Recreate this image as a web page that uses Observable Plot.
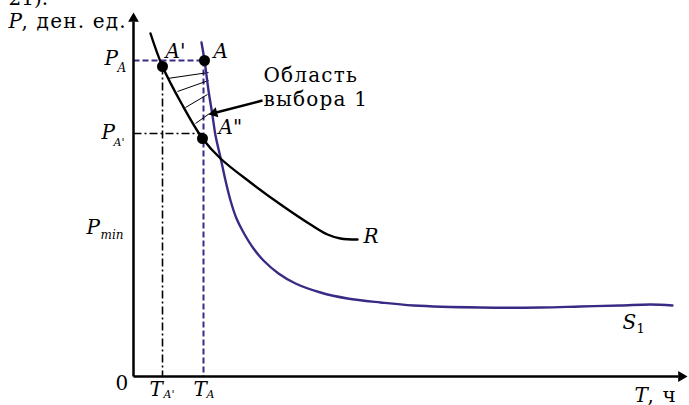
<!DOCTYPE html>
<html><head><meta charset="utf-8">
<script src="https://cdn.jsdelivr.net/npm/d3@7"></script>
<script src="https://cdn.jsdelivr.net/npm/@observablehq/plot@0.6"></script>
<style>body{margin:0;background:#fff;} svg{display:block;}</style>
</head><body><div id="chart"></div>
<script>
// Curve R (black)
const rT = [17,29,48,69,87,117,150,177,194,207,224];
const rP = [343,310,273,238,218,194,170,152,142,138,137];
// Curve S1 (purple)
const s1T = [68,71,75,79,82,87,92,97,103,110,120,130,145,162,187,214,247,280,347,407,447,487,517,539];
const s1P = [334,316,286,261,241,219,196,176,158,144,128,116,103,93,84,78,74,71,69,69,70,71,72,71];
// Key points
const pointNames = ["A'", "A", "A\""];
const pointT = [29, 71, 69];
const pointP = [310, 316, 238];
// Reference levels
const levelNames = ["P_A", "P_A'", "P_min"];
const levelP = [316, 243, 143];
const timeNames = ["T_A'", "T_A"];
const timeT = [29, 70];
// Hatching of the choice region (from R to S1)
const hatchT1 = [34, 44, 52, 62];
const hatchP1 = [298, 285, 269, 253];
const hatchT2 = [75, 75, 74, 76];
const hatchP2 = [304, 296, 282, 263];
// Annotation arrow "Область выбора 1"
const noteTail = [129, 276];
const noteHead = [80.7, 263.5];

const purple = "#3b2a85";
const R = rT.map((t, i) => ({T: t, P: rP[i]}));
const S1 = s1T.map((t, i) => ({T: t, P: s1P[i]}));
const pts = pointNames.map((n, i) => ({name: n, T: pointT[i], P: pointP[i]}));
const hatch = hatchT1.map((t, i) => ({x1: t, y1: hatchP1[i], x2: hatchT2[i], y2: hatchP2[i]}));
const dashedPurple = [
  {x1: 0, y1: levelP[0], x2: pointT[1], y2: levelP[0]},
  {x1: timeT[1], y1: levelP[0], x2: timeT[1], y2: 0}
];
const dashDot = [
  {x1: 0, y1: levelP[1], x2: pointT[2], y2: levelP[1]},
  {x1: timeT[0], y1: pointP[0], x2: timeT[0], y2: 0}
];

const italic = [
  {t: "P", T: -125, P: 349, s: 20},
  {t: "P", T: -29, P: 312, s: 20},
  {t: "P", T: -32, P: 238, s: 20},
  {t: "P", T: -47, P: 143, s: 20},
  {t: "T", T: 16, P: -19, s: 20},
  {t: "T", T: 60, P: -19, s: 20},
  {t: "T", T: 501, P: -25, s: 20},
  {t: "A'", T: 32, P: 319, s: 20},
  {t: "A", T: 80, P: 319, s: 20},
  {t: "A\"", T: 85, P: 243, s: 20},
  {t: "R", T: 230, P: 134, s: 20},
  {t: "S", T: 489, P: 48, s: 20}
];
const subs = [
  {t: "A", T: -16, P: 305, s: 12},
  {t: "A'", T: -20, P: 231, s: 11},
  {t: "min", T: -33, P: 138, s: 12},
  {t: "A'", T: 30, P: -21, s: 11},
  {t: "A", T: 73, P: -21, s: 11}
];
const upright = [
  {t: ", ден. ед.", T: -112, P: 349, s: 20},
  {t: "0", T: -18, P: -13, s: 20},
  {t: ", ч", T: 514, P: -25, s: 20},
  {t: "1", T: 503, P: 44, s: 13},
  {t: "Область", T: 130, P: 295, s: 20},
  {t: "выбора 1", T: 130, P: 271, s: 20},
  {t: "21).", T: -125, P: 372, s: 20}
];

const chart = Plot.plot({
  width: 689, height: 405,
  marginLeft: 133, marginRight: 2, marginTop: 13, marginBottom: 29,
  x: {domain: [0, 554], axis: null},
  y: {domain: [0, 363], axis: null},
  style: {fontFamily: "DejaVu Serif", background: "white", color: "black"},
  marks: [
    Plot.link(dashedPurple, {x1: "x1", y1: "y1", x2: "x2", y2: "y2", stroke: purple, strokeWidth: 2, strokeDasharray: "6,3"}),
    Plot.link(dashDot, {x1: "x1", y1: "y1", x2: "x2", y2: "y2", stroke: "black", strokeWidth: 1.6, strokeDasharray: "8,3,2,3"}),
    Plot.link(hatch, {x1: "x1", y1: "y1", x2: "x2", y2: "y2", stroke: "black", strokeWidth: 1}),
    Plot.line(S1, {x: "T", y: "P", stroke: purple, strokeWidth: 2.4, curve: "catmull-rom"}),
    Plot.line(R, {x: "T", y: "P", stroke: "black", strokeWidth: 2.4, curve: "catmull-rom"}),
    // axes
    Plot.link([{x1: 0, y1: 0, x2: 0, y2: 355}], {x1: "x1", y1: "y1", x2: "x2", y2: "y2", stroke: "black", strokeWidth: 2.5}),
    Plot.link([{x1: 0, y1: 0, x2: 545, y2: 0}], {x1: "x1", y1: "y1", x2: "x2", y2: "y2", stroke: "black", strokeWidth: 2.5}),
    Plot.dot([{T: 0, P: 357.8}], {x: "T", y: "P", symbol: "triangle", r: 4, fill: "black", stroke: null}),
    Plot.dot([{T: 547.8, P: 0}], {x: "T", y: "P", symbol: "triangle", r: 4, fill: "black", stroke: null, rotate: 90}),
    // annotation arrow
    Plot.link([{x1: noteTail[0], y1: noteTail[1], x2: noteHead[0], y2: noteHead[1]}], {x1: "x1", y1: "y1", x2: "x2", y2: "y2", stroke: "black", strokeWidth: 2.5}),
    Plot.dot([{T: noteHead[0], P: noteHead[1]}], {x: "T", y: "P", symbol: "triangle", r: 3.8, fill: "black", stroke: null, rotate: 255}),
    Plot.dot(pts, {x: "T", y: "P", r: 5.5, fill: "black", stroke: null}),
    Plot.text(italic, {x: "T", y: "P", text: "t", fontSize: "s", fontStyle: "italic", textAnchor: "start", lineAnchor: "bottom", fill: "black"}),
    Plot.text(subs, {x: "T", y: "P", text: "t", fontSize: "s", fontStyle: "italic", textAnchor: "start", lineAnchor: "bottom", fill: "black"}),
    Plot.text(upright, {x: "T", y: "P", text: "t", fontSize: "s", textAnchor: "start", lineAnchor: "bottom", fill: "black"})
  ]
});
// widen the Cyrillic labels slightly, as in the reference's wide serif face
d3.select(chart).selectAll("text")
  .filter(function() { return /[а-яА-ЯёЁ]/.test(this.textContent); })
  .style("letter-spacing", "1.2px");
document.getElementById("chart").appendChild(chart);
</script>
</body></html>
